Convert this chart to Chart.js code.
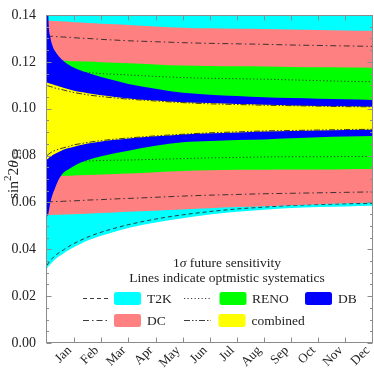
<!DOCTYPE html>
<html><head><meta charset="utf-8">
<script src="https://cdn.jsdelivr.net/npm/chart.js@4"></script>
<style>html,body{margin:0;padding:0;background:#fff}#wrap{width:374px;height:372px}</style>
</head><body><div id="wrap"><canvas id="c" width="374" height="372"></canvas></div>
<script>
const MONTHS = ['Jan','Feb','Mar','Apr','May','Jun','Jul','Aug','Sep','Oct','Nov','Dec'];
const Y_TICKS = [0, 0.02, 0.04, 0.06, 0.08, 0.10, 0.12, 0.14];
// time in months
const T = [0, 0.05, 0.12, 0.2, 0.3, 0.45, 0.6, 0.8, 1, 1.25, 1.5, 2, 2.5, 3, 4, 5, 6, 7, 8, 9, 10, 11, 12];

const T2K_UP     = [0.170,0.168,0.166,0.164,0.162,0.160,0.158,0.156,0.155,0.153,0.152,0.150,0.148,0.147,0.146,0.145,0.144,0.143,0.1425,0.142,0.1418,0.1416,0.1415];
const T2K_LO     = [0.0318,0.0326,0.0336,0.0346,0.0357,0.0370,0.0382,0.0397,0.0410,0.0424,0.0437,0.0458,0.0475,0.0491,0.0514,0.0533,0.0548,0.0560,0.0569,0.0576,0.0580,0.0583,0.0586];
const T2K_OPT_LO = [0.0332,0.0341,0.0352,0.0362,0.0373,0.0386,0.0397,0.0412,0.0425,0.0439,0.0452,0.0473,0.0490,0.0505,0.0529,0.0547,0.0561,0.0572,0.0580,0.0587,0.0591,0.0594,0.0596];

const DC_UP      = [0.1375,0.1375,0.1375,0.1374,0.1374,0.1373,0.1372,0.1371,0.1369,0.1368,0.1366,0.1363,0.1360,0.1357,0.1351,0.1346,0.1343,0.1341,0.1340,0.1338,0.1336,0.1334,0.1333];
const DC_LO      = [0.0546,0.0546,0.0546,0.0546,0.0547,0.0547,0.0548,0.0549,0.0550,0.0551,0.0552,0.0555,0.0557,0.0560,0.0565,0.0570,0.0575,0.0580,0.0584,0.0588,0.0592,0.0596,0.0600];
const DC_OPT_UP  = [0.1310,0.1310,0.1309,0.1309,0.1308,0.1307,0.1306,0.1305,0.1303,0.1301,0.1300,0.1296,0.1293,0.1290,0.1286,0.1282,0.1279,0.1277,0.1275,0.1272,0.1270,0.1268,0.1266];
const DC_OPT_LO  = [0.0602,0.0602,0.0603,0.0603,0.0604,0.0604,0.0605,0.0606,0.0607,0.0608,0.0610,0.0612,0.0615,0.0617,0.0622,0.0627,0.0631,0.0634,0.0637,0.0639,0.0641,0.0643,0.0645];

const RENO_UP     = [0.1212,0.1212,0.1211,0.1210,0.1209,0.1207,0.1206,0.1204,0.1203,0.1202,0.1201,0.1198,0.1196,0.1194,0.1189,0.1184,0.1182,0.1181,0.1180,0.1178,0.1177,0.1176,0.1175];
const RENO_LO     = [0.0710,0.0710,0.0711,0.0711,0.0712,0.0713,0.0714,0.0714,0.0715,0.0716,0.0717,0.0719,0.0721,0.0723,0.0729,0.0734,0.0737,0.0739,0.0740,0.0741,0.0741,0.0742,0.0743];
const RENO_OPT_UP = [0.1165,0.1165,0.1164,0.1164,0.1163,0.1162,0.1161,0.1159,0.1157,0.1155,0.1154,0.1150,0.1147,0.1144,0.1138,0.1133,0.1130,0.1128,0.1126,0.1123,0.1120,0.1117,0.1115];
const RENO_OPT_LO = [0.0772,0.0772,0.0773,0.0773,0.0773,0.0774,0.0775,0.0775,0.0776,0.0777,0.0777,0.0779,0.0780,0.0781,0.0784,0.0787,0.0790,0.0792,0.0794,0.0795,0.0795,0.0796,0.0796];

const DB_UP = [0.175,0.140,0.1308,0.1270,0.1245,0.1222,0.1205,0.1188,0.1175,0.1163,0.1153,0.1135,0.1120,0.1106,0.1085,0.1068,0.1060,0.1054,0.1049,0.1046,0.1043,0.1040,0.1037];
const DB_LO = [0.0540,0.0553,0.0598,0.0632,0.0662,0.0702,0.0726,0.0742,0.0756,0.0770,0.0781,0.0797,0.0810,0.0821,0.0842,0.0857,0.0862,0.0866,0.0869,0.0874,0.0878,0.0881,0.0884];

const COMB_UP     = [0.1112,0.1110,0.1107,0.1104,0.1100,0.1095,0.1090,0.1083,0.1077,0.1071,0.1066,0.1057,0.1050,0.1044,0.1035,0.1028,0.1024,0.1020,0.1017,0.1014,0.1012,0.1010,0.1008];
const COMB_LO     = [0.0783,0.0788,0.0795,0.0801,0.0808,0.0816,0.0825,0.0832,0.0838,0.0845,0.0851,0.0860,0.0867,0.0873,0.0882,0.0890,0.0895,0.0899,0.0903,0.0905,0.0907,0.0909,0.0910];
const COMB_OPT_UP = [0.1099,0.1097,0.1095,0.1092,0.1088,0.1084,0.1080,0.1074,0.1069,0.1064,0.1059,0.1052,0.1046,0.1041,0.1033,0.1026,0.1021,0.1018,0.1015,0.1013,0.1011,0.1009,0.1008];
const COMB_OPT_LO = [0.0800,0.0805,0.0811,0.0817,0.0822,0.0828,0.0833,0.0839,0.0846,0.0851,0.0856,0.0864,0.0870,0.0875,0.0884,0.0891,0.0897,0.0901,0.0905,0.0907,0.0909,0.0911,0.0912];

const C_T2K = '#00FFFF', C_DC = '#FF8080', C_RENO = '#00FF00', C_DB = '#0000FF', C_COMB = '#FFFF00';
const LINE_COLOR = 'rgba(40,40,40,0.9)';
const DASH_T2K = [4, 3], DASH_DC = [6, 3, 1.5, 3], DASH_RENO = [1.2, 2.3], DASH_COMB = [6, 2, 1.5, 2, 1.5, 2];
const SERIF = "'Liberation Serif', 'DejaVu Serif', serif";

const pts = arr => T.map((t, i) => ({x: t, y: arr[i]}));
const common = {pointRadius: 0, pointHoverRadius: 0, cubicInterpolationMode: 'monotone'};
function bound(data, order) {
  return Object.assign({data: pts(data), borderColor: 'transparent', borderWidth: 0, fill: false, order}, common);
}
function band(data, target, color, order) {
  return Object.assign({data: pts(data), borderColor: 'transparent', borderWidth: 0, backgroundColor: color,
    fill: {target, above: color, below: color}, order}, common);
}
function optLine(data, dash, order) {
  return Object.assign({data: pts(data), borderColor: LINE_COLOR, borderWidth: 1, borderDash: dash, fill: false, order}, common);
}

const datasets = [
  bound(T2K_LO, 100),            // 0
  band(T2K_UP, 0, C_T2K, 99),    // 1
  optLine(T2K_OPT_LO, DASH_T2K, 98), // 2
  bound(DC_LO, 97),              // 3
  band(DC_UP, 3, C_DC, 96),      // 4
  optLine(DC_OPT_UP, DASH_DC, 95),   // 5
  optLine(DC_OPT_LO, DASH_DC, 94),   // 6
  bound(RENO_LO, 93),            // 7
  band(RENO_UP, 7, C_RENO, 92),  // 8
  optLine(RENO_OPT_UP, DASH_RENO, 91), // 9
  optLine(RENO_OPT_LO, DASH_RENO, 90), // 10
  bound(DB_LO, 89),              // 11
  band(DB_UP, 11, C_DB, 88),     // 12
  bound(COMB_LO, 87),            // 13
  band(COMB_UP, 13, C_COMB, 86), // 14
  optLine(COMB_OPT_UP, DASH_COMB, 85), // 15
  optLine(COMB_OPT_LO, DASH_COMB, 84)  // 16
];

const framePlugin = {
  id: 'frame',
  afterDatasetsDraw(chart) {
    const {ctx, chartArea: a, scales: {x, y}} = chart;
    ctx.save();
    ctx.strokeStyle = '#8c8c8c';
    ctx.lineWidth = 1;
    const L = Math.round(a.left) - 0.5, R = Math.round(a.right) - 0.5, Tp = Math.round(a.top) + 0.5, B = Math.round(a.bottom) - 0.5;
    ctx.strokeRect(L, Tp, R - L, B - Tp);
    ctx.beginPath();
    for (let k = 1; k < 12; k++) {
      const px = Math.round(x.getPixelForValue(k)) + 0.5;
      ctx.moveTo(px, B); ctx.lineTo(px, B - 5);
      ctx.moveTo(px, Tp); ctx.lineTo(px, Tp + 5);
    }
    for (let i = 0; i <= 28; i++) {
      const v = i * 0.005;
      const py = Math.round(y.getPixelForValue(v)) + 0.5;
      const len = (i % 4 === 0) ? 5 : 2.5;
      ctx.moveTo(L, py); ctx.lineTo(L + len, py);
      ctx.moveTo(R, py); ctx.lineTo(R - len, py);
    }
    ctx.stroke();
    ctx.restore();
  },
  afterDraw(chart) {
    const {ctx, chartArea: a} = chart;
    ctx.save();
    ctx.fillStyle = '#222';
    // Y axis title: sin^2 2θ_13
    const cy = 174;
    ctx.translate(17.5, cy);
    ctx.rotate(-Math.PI / 2);
    ctx.textBaseline = 'alphabetic';
    const segs = [
      {t: 'sin', f: '15.5px ' + SERIF, dy: 0},
      {t: '2', f: '11px ' + SERIF, dy: -6.5},
      {t: '2', f: '15.5px ' + SERIF, dy: 0},
      {t: 'θ', f: 'italic 15.5px ' + SERIF, dy: 0},
      {t: '13', f: '11px ' + SERIF, dy: 3.5}
    ];
    let total = 0;
    segs.forEach(s => { ctx.font = s.f; s.w = ctx.measureText(s.t).width; total += s.w; });
    let cx = -total / 2;
    segs.forEach(s => { ctx.font = s.f; ctx.fillText(s.t, cx, s.dy); cx += s.w; });
    ctx.restore();

    // Legend
    ctx.save();
    ctx.fillStyle = '#222';
    ctx.textBaseline = 'alphabetic';
    const fs = '13.5px ' + SERIF;
    const lcx = 227;
    const l1 = [{t: '1', f: fs}, {t: 'σ', f: 'italic ' + fs}, {t: ' future sensitivity', f: fs}];
    let w1 = 0; l1.forEach(s => { ctx.font = s.f; s.w = ctx.measureText(s.t).width; w1 += s.w; });
    let x1 = lcx - w1 / 2;
    l1.forEach(s => { ctx.font = s.f; ctx.fillText(s.t, x1, 266.5); x1 += s.w; });
    ctx.font = fs; ctx.textAlign = 'center';
    ctx.fillText('Lines indicate optmistic systematics', lcx, 282);
    ctx.textAlign = 'left';

    const rows = [
      {ly: 298.5, sy: 292, items: [
        {dash: DASH_T2K, lx: 83, color: C_T2K, sx: 114, label: 'T2K', tx: 147},
        {dash: DASH_RENO, lx: 184, color: C_RENO, sx: 219.5, label: 'RENO', tx: 252},
        {dash: null, lx: 0, color: C_DB, sx: 305, label: 'DB', tx: 338}
      ]},
      {ly: 320.5, sy: 314, items: [
        {dash: DASH_DC, lx: 83, color: C_DC, sx: 114, label: 'DC', tx: 147},
        {dash: DASH_COMB, lx: 184, color: C_COMB, sx: 218.5, label: 'combined', tx: 251.5}
      ]}
    ];
    rows.forEach(r => {
      r.items.forEach(it => {
        if (it.dash) {
          ctx.save();
          ctx.strokeStyle = LINE_COLOR; ctx.lineWidth = 1; ctx.setLineDash(it.dash);
          ctx.beginPath(); ctx.moveTo(it.lx, r.ly); ctx.lineTo(it.lx + 27, r.ly); ctx.stroke();
          ctx.restore();
        }
        ctx.fillStyle = it.color;
        ctx.beginPath();
        if (ctx.roundRect) ctx.roundRect(it.sx, r.sy, 27, 13, 2.5); else ctx.rect(it.sx, r.sy, 27, 13);
        ctx.fill();
        ctx.fillStyle = '#222';
        ctx.font = fs;
        ctx.fillText(it.label, it.tx, r.sy + 11);
      });
    });
    ctx.restore();
  }
};

new Chart(document.getElementById('c'), {
  type: 'line',
  data: {datasets},
  plugins: [framePlugin],
  options: {
    responsive: false,
    animation: false,
    devicePixelRatio: 1,
    layout: {padding: {top: 15, right: 1.5, left: 0, bottom: 0}},
    plugins: {legend: {display: false}, tooltip: {enabled: false}},
    elements: {line: {borderCapStyle: 'butt'}},
    scales: {
      x: {
        type: 'linear', min: 0, max: 12,
        grid: {display: false}, border: {display: false},
        afterBuildTicks: s => { s.ticks = MONTHS.map((m, i) => ({value: i + 0.5})); },
        afterFit: s => { s.height = 29; s.paddingLeft = 0; s.paddingRight = 0; },
        ticks: {
          autoSkip: false, minRotation: 45, maxRotation: 45, labelOffset: 9, padding: -8,
          color: '#222', font: {family: SERIF, size: 13},
          callback: (v, i) => MONTHS[i]
        }
      },
      y: {
        type: 'linear', min: 0, max: 0.14,
        grid: {display: false}, border: {display: false},
        afterBuildTicks: s => { s.ticks = Y_TICKS.map(v => ({value: v})); },
        afterFit: s => { s.width = 47; },
        ticks: {
          padding: 3, color: '#222', font: {family: SERIF, size: 14},
          callback: v => v.toFixed(2)
        }
      }
    }
  }
});
</script></body></html>
